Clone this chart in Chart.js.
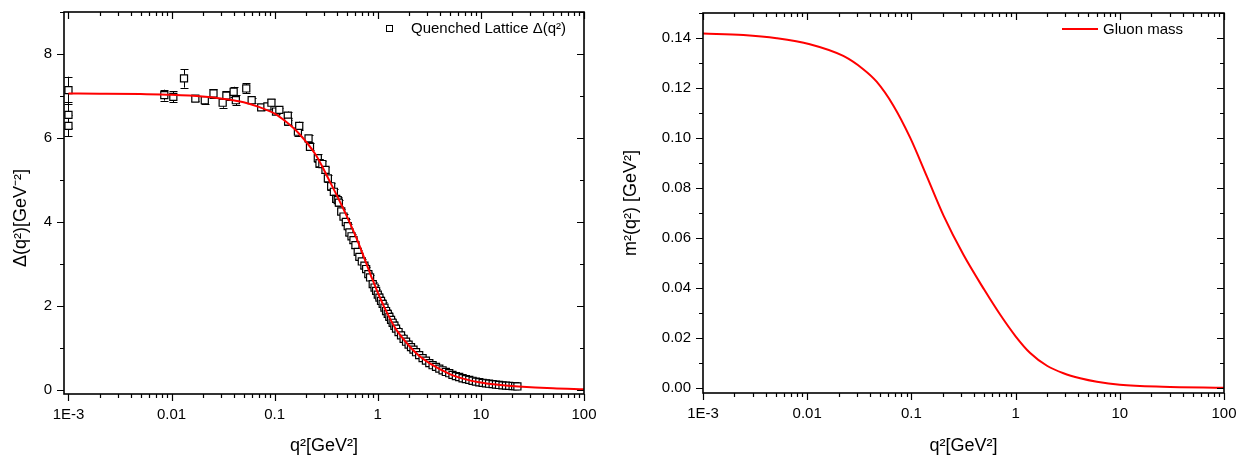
<!DOCTYPE html>
<html>
<head>
<meta charset="utf-8">
<script src="https://cdn.jsdelivr.net/npm/chart.js@4.4.1/dist/chart.umd.min.js"></script>
<style>
  html, body { margin: 0; padding: 0; background: #ffffff; }
  #wrap { position: relative; width: 1241px; height: 457px; overflow: hidden; }
  #c1 { position: absolute; left: 0; top: 0; }
  #c2 { position: absolute; left: 620px; top: 0; }
</style>
</head>
<body>
<div id="wrap">
  <canvas id="c1" width="620" height="457"></canvas>
  <canvas id="c2" width="621" height="457"></canvas>
</div>
<script>
// ---------------- data ----------------
const xTickValues = [0.001, 0.01, 0.1, 1, 10, 100];
const xTickLabels = ['1E-3', '0.01', '0.1', '1', '10', '100'];

const deltaTickValues = [0, 2, 4, 6, 8];
const deltaTickLabels = ['0', '2', '4', '6', '8'];

const massTickValues = [0, 0.02, 0.04, 0.06, 0.08, 0.10, 0.12, 0.14];
const massTickLabels = ['0.00', '0.02', '0.04', '0.06', '0.08', '0.10', '0.12', '0.14'];

// Quenched lattice Δ(q²) points
const latticeQ2 = [
  0.001, 0.001, 0.001, 0.0085, 0.0104, 0.0132, 0.0170, 0.0210, 0.0255, 0.0313,
  0.0340, 0.0400, 0.0420, 0.0530, 0.0598, 0.0740, 0.0850, 0.0930, 0.1030, 0.1110,
  0.1340, 0.1350, 0.1680, 0.1730, 0.2130, 0.2200,
  0.262, 0.272, 0.290, 0.311, 0.328, 0.353, 0.375, 0.395, 0.409, 0.419,
  0.442, 0.465, 0.490, 0.511, 0.531, 0.556, 0.581, 0.607, 0.639, 0.663,
  0.700, 0.742, 0.771, 0.810, 0.842, 0.893, 0.930, 0.963, 1.000, 1.037,
  1.075, 1.115, 1.160, 1.203, 1.250, 1.295, 1.345, 1.394, 1.450, 1.503,
  1.590, 1.681, 1.780, 1.880, 1.990, 2.100, 2.220, 2.350, 2.520, 2.720,
  2.930, 3.160, 3.400, 3.670, 3.950, 4.250, 4.570, 4.930, 5.300, 5.720,
  6.160, 6.640, 7.150, 7.710, 8.300, 8.950, 9.650, 10.4, 11.2, 12.0,
  13.0, 14.0, 15.0, 16.2, 17.5, 18.8, 20.3, 21.5, 22.6
];
const latticeDelta = [
  7.14, 6.55, 6.29, 7.02, 6.98, 7.42, 6.94, 6.90, 7.06, 6.84,
  7.01, 7.10, 6.90, 7.18, 6.90, 6.73, 6.75, 6.84, 6.63, 6.67,
  6.53, 6.39, 6.15, 6.29, 5.99, 5.79,
  5.52, 5.40, 5.38, 5.24, 5.04, 4.85, 4.72, 4.55, 4.52, 4.46,
  4.25, 4.13, 4.00, 3.90, 3.75, 3.66, 3.57, 3.45, 3.29, 3.17,
  3.06, 2.96, 2.88, 2.76, 2.68, 2.52, 2.44, 2.36, 2.27, 2.20,
  2.12, 2.05, 1.96, 1.88, 1.81, 1.74, 1.67, 1.60, 1.53, 1.46,
  1.38, 1.30, 1.22, 1.15, 1.08, 1.02, 0.96, 0.90, 0.83, 0.76,
  0.70, 0.64, 0.59, 0.55, 0.51, 0.47, 0.43, 0.40, 0.36, 0.33,
  0.31, 0.28, 0.26, 0.24, 0.22, 0.20, 0.185, 0.17, 0.16, 0.15,
  0.14, 0.13, 0.12, 0.11, 0.105, 0.10, 0.095, 0.09, 0.085
];
const latticeErr = [
  0.32, 0.30, 0.25, 0.13, 0.13, 0.22, 0.07, 0.10, 0.10, 0.12,
  0.10, 0.12, 0.12, 0.12, 0.06, 0.05, 0.05, 0.08, 0.06, 0.05,
  0.10, 0.08, 0.10, 0.10, 0.08, 0.08,
  0.10, 0.10, 0.08, 0.08, 0.08, 0.08, 0.07, 0.07, 0.07, 0.07,
  0.07, 0.06, 0.06, 0.06, 0.06, 0.06, 0.06, 0.06, 0.05, 0.05,
  0.05, 0.05, 0.05, 0.05, 0.05, 0.05, 0.05, 0.04, 0.04, 0.04,
  0.04, 0.04, 0.04, 0.04, 0.04, 0.04, 0.04, 0.04, 0.03, 0.03,
  0.03, 0.03, 0.03, 0.03, 0.03, 0.03, 0.03, 0.03, 0.03, 0.03,
  0.03, 0.02, 0.02, 0.02, 0.02, 0.02, 0.02, 0.02, 0.02, 0.02,
  0.02, 0.02, 0.02, 0.02, 0.02, 0.02, 0.02, 0.02, 0.02, 0.02,
  0.02, 0.02, 0.02, 0.02, 0.02, 0.02, 0.02, 0.02, 0.02
];

// Fitted Δ(q²) curve (red)
const deltaFitQ2 = [0.001, 0.002, 0.005, 0.01, 0.02, 0.03, 0.05, 0.07, 0.1, 0.13,
  0.17, 0.25, 0.34, 0.46, 0.62, 0.86, 1.04, 1.25, 1.5, 2.0, 2.5, 3.16, 5.0, 7.0,
  9.6, 14, 23, 50, 100];
const deltaFitValues = [7.06, 7.055, 7.045, 7.03, 6.99, 6.94, 6.85, 6.74, 6.58, 6.38,
  6.12, 5.60, 4.98, 4.33, 3.62, 2.72, 2.22, 1.80, 1.45, 1.06, 0.82, 0.64, 0.38, 0.26,
  0.185, 0.13, 0.085, 0.04, 0.02];

// Gluon mass m²(q²) curve
const massQ2 = [0.001, 0.00244, 0.0051, 0.0106, 0.0222, 0.0345, 0.0464, 0.067, 0.097, 0.141,
  0.204, 0.316, 0.501, 0.71, 1.0, 1.38, 2.0, 2.88, 4.17, 6.03, 10, 25.7, 100];
const massValues = [0.1418, 0.1412, 0.1399, 0.1375, 0.1328, 0.1275, 0.1225, 0.1130, 0.1002, 0.0845,
  0.0688, 0.0532, 0.0392, 0.0293, 0.0206, 0.0139, 0.0088, 0.0058, 0.0038, 0.0024,
  0.0012, 0.0004, 0.0000];

const deltaLegend = 'Quenched Lattice Δ(q²)';
const massLegend = 'Gluon mass';
const deltaAxisTitle = 'Δ(q²)[GeV⁻²]';
const massAxisTitle = 'm²(q²) [GeV²]';
const qAxisTitle = 'q²[GeV²]';

// ---------------- helpers ----------------
const FONT = "'Liberation Sans', Arial, Helvetica, sans-serif";

function logTicks() {
  const out = [];
  for (let e = -4; e <= 2; e++) {
    for (let m = 1; m <= 9; m++) {
      out.push(Number((m * Math.pow(10, e)).toPrecision(6)));
    }
  }
  return out;
}
function isIn(list, v) {
  return list.some(t => Math.abs(t - v) <= Math.abs(t) * 1e-6 + 1e-12);
}
function labelFor(values, labels, v) {
  for (let i = 0; i < values.length; i++) {
    if (Math.abs(values[i] - v) <= Math.abs(values[i]) * 1e-6 + 1e-9) return labels[i];
  }
  return '';
}

const frameTicks = {
  id: 'frameTicks',
  afterDraw(chart, args, o) {
    const { ctx, chartArea: { left, right, top, bottom } } = chart;
    const xs = chart.scales.x, ys = chart.scales.y;
    ctx.save();
    ctx.strokeStyle = '#000';
    ctx.lineWidth = 1.2;
    ctx.beginPath();
    xs.ticks.forEach(t => {
      const px = Math.round(xs.getPixelForValue(t.value)) + 0.5;
      if (px < left - 0.5 || px > right + 1) return;
      const L = isIn(o.xMajor, t.value) ? 7 : 4;
      ctx.moveTo(px, bottom); ctx.lineTo(px, bottom + L);
      ctx.moveTo(px, top); ctx.lineTo(px, top + L);
    });
    ys.ticks.forEach(t => {
      const py = Math.round(ys.getPixelForValue(t.value)) + 0.5;
      if (py < top - 1 || py > bottom + 1) return;
      const L = isIn(o.yMajor, t.value) ? 7 : 4;
      ctx.moveTo(left, py); ctx.lineTo(left - L, py);
      ctx.moveTo(right, py); ctx.lineTo(right - L, py);
    });
    ctx.stroke();
    ctx.lineWidth = 1.6;
    ctx.strokeRect(left, top, right - left, bottom - top);
    ctx.restore();
  }
};

const errorBars = {
  id: 'errorBars',
  beforeDatasetsDraw(chart, args, o) {
    if (!o.errors) return;
    const meta = chart.getDatasetMeta(o.datasetIndex);
    const ys = chart.scales.y;
    const ds = chart.data.datasets[o.datasetIndex].data;
    const { ctx } = chart;
    ctx.save();
    ctx.strokeStyle = '#000';
    ctx.lineWidth = 1;
    ctx.beginPath();
    meta.data.forEach((pt, i) => {
      const e = o.errors[i];
      const y1 = ys.getPixelForValue(ds[i].y + e);
      const y2 = ys.getPixelForValue(ds[i].y - e);
      const x = Math.round(pt.x) + 0.5;
      ctx.moveTo(x, y1); ctx.lineTo(x, y2);
      ctx.moveTo(x - 4, Math.round(y1) + 0.5); ctx.lineTo(x + 4, Math.round(y1) + 0.5);
      ctx.moveTo(x - 4, Math.round(y2) + 0.5); ctx.lineTo(x + 4, Math.round(y2) + 0.5);
    });
    ctx.stroke();
    ctx.restore();
  }
};

const legendBox = {
  id: 'legendBox',
  afterDraw(chart, args, o) {
    const { ctx, chartArea } = chart;
    const y = chartArea.top + o.dy;
    ctx.save();
    if (o.kind === 'square') {
      const cx = chartArea.right - o.markerFromRight;
      ctx.fillStyle = '#fff';
      ctx.strokeStyle = '#000';
      ctx.lineWidth = 1;
      ctx.fillRect(cx - 3, y - 3, 6, 6);
      ctx.strokeRect(Math.round(cx - 3) + 0.5, Math.round(y - 3) + 0.5, 6, 6);
    } else {
      ctx.strokeStyle = '#ff0000';
      ctx.lineWidth = 2;
      ctx.beginPath();
      ctx.moveTo(chartArea.right - o.lineFromRight[0], y);
      ctx.lineTo(chartArea.right - o.lineFromRight[1], y);
      ctx.stroke();
    }
    ctx.fillStyle = '#000';
    ctx.font = o.fontSize + 'px ' + FONT;
    ctx.textAlign = 'left';
    ctx.textBaseline = 'middle';
    ctx.fillText(o.text, chartArea.right - o.textFromRight, y + 1);
    ctx.restore();
  }
};

function xScale(min, max) {
  return {
    type: 'logarithmic',
    min: min, max: max,
    grid: { display: false, drawTicks: false, tickLength: 0 },
    border: { display: false },
    afterBuildTicks: s => { s.ticks = logTicks().filter(v => v >= min * 0.999 && v <= max * 1.001).map(v => ({ value: v })); },
    afterFit: s => {
      s.height = s.chart.options.plugins.frameTicks.xHeight;
      s.paddingLeft = 0; s.paddingRight = 0;
    },
    ticks: {
      autoSkip: false, maxRotation: 0, padding: 12, color: '#000',
      font: { family: FONT, size: 15 },
      callback: v => labelFor(xTickValues, xTickLabels, v)
    },
    title: { display: true, text: qAxisTitle, color: '#000', font: { family: FONT, size: 18 }, padding: { top: 0, bottom: 0 } }
  };
}

function yScale(min, max, tickList, width, vals, labs, title, titlePad) {
  return {
    type: 'linear', min: min, max: max,
    grid: { display: false, drawTicks: false, tickLength: 0 },
    border: { display: false },
    afterBuildTicks: s => { s.ticks = tickList.map(v => ({ value: v })); },
    afterFit: s => { s.width = width; s.paddingTop = 0; s.paddingBottom = 0; },
    ticks: {
      autoSkip: false, padding: 12, color: '#000',
      font: { family: FONT, size: 15 },
      callback: v => labelFor(vals, labs, v)
    },
    title: { display: true, text: title, color: '#000', font: { family: FONT, size: 18 }, padding: { top: titlePad, bottom: 0 } }
  };
}

const deltaTickList = [0, 1, 2, 3, 4, 5, 6, 7, 8, 9];
const massTickList = [];
for (let i = 0; i <= 15; i++) massTickList.push(Number((i * 0.01).toFixed(2)));

// ---------------- left chart ----------------
new Chart(document.getElementById('c1'), {
  type: 'scatter',
  data: {
    datasets: [
      {
        label: 'fit',
        data: deltaFitQ2.map((q, i) => ({ x: q, y: deltaFitValues[i] })),
        showLine: true, borderColor: '#ff0000', borderWidth: 2,
        pointRadius: 0, cubicInterpolationMode: 'monotone', fill: false
      },
      {
        label: deltaLegend,
        data: latticeQ2.map((q, i) => ({ x: q, y: latticeDelta[i] })),
        showLine: false, pointStyle: 'rect', pointRadius: 5,
        pointBackgroundColor: '#ffffff', pointBorderColor: '#000000', pointBorderWidth: 1.2
      }
    ]
  },
  options: {
    responsive: false, animation: false,
    layout: { padding: { left: 0, right: 36, top: 12, bottom: 0 } },
    scales: {
      x: xScale(0.000905, 100),
      y: yScale(-0.095, 9, deltaTickList, 64, deltaTickValues, deltaTickLabels,
        deltaAxisTitle + '\u00a0\u00a0\u00a0\u00a0\u00a0\u00a0', 10)
    },
    plugins: {
      legend: { display: false },
      tooltip: { enabled: false },
      frameTicks: { xMajor: xTickValues, yMajor: deltaTickValues, xHeight: 63 },
      errorBars: { datasetIndex: 1, errors: latticeErr },
      legendBox: { kind: 'square', text: deltaLegend, markerFromRight: 195, textFromRight: 173, dy: 16, fontSize: 15 }
    }
  },
  plugins: [frameTicks, errorBars, legendBox]
});

// ---------------- right chart ----------------
new Chart(document.getElementById('c2'), {
  type: 'scatter',
  data: {
    datasets: [
      {
        label: massLegend,
        data: massQ2.map((q, i) => ({ x: q, y: massValues[i] })),
        showLine: true, borderColor: '#ff0000', borderWidth: 2,
        pointRadius: 0, cubicInterpolationMode: 'monotone', fill: false
      }
    ]
  },
  options: {
    responsive: false, animation: false,
    layout: { padding: { left: 0, right: 17, top: 13, bottom: 0 } },
    scales: {
      x: xScale(0.001, 100),
      y: yScale(-0.0021, 0.15, massTickList, 83, massTickValues, massTickLabels, massAxisTitle, 0)
    },
    plugins: {
      legend: { display: false },
      tooltip: { enabled: false },
      frameTicks: { xMajor: xTickValues, yMajor: massTickValues, xHeight: 64 },
      legendBox: { kind: 'line', text: massLegend, lineFromRight: [162, 126], textFromRight: 121, dy: 16, fontSize: 15 }
    }
  },
  plugins: [frameTicks, legendBox]
});
</script>
</body>
</html>
